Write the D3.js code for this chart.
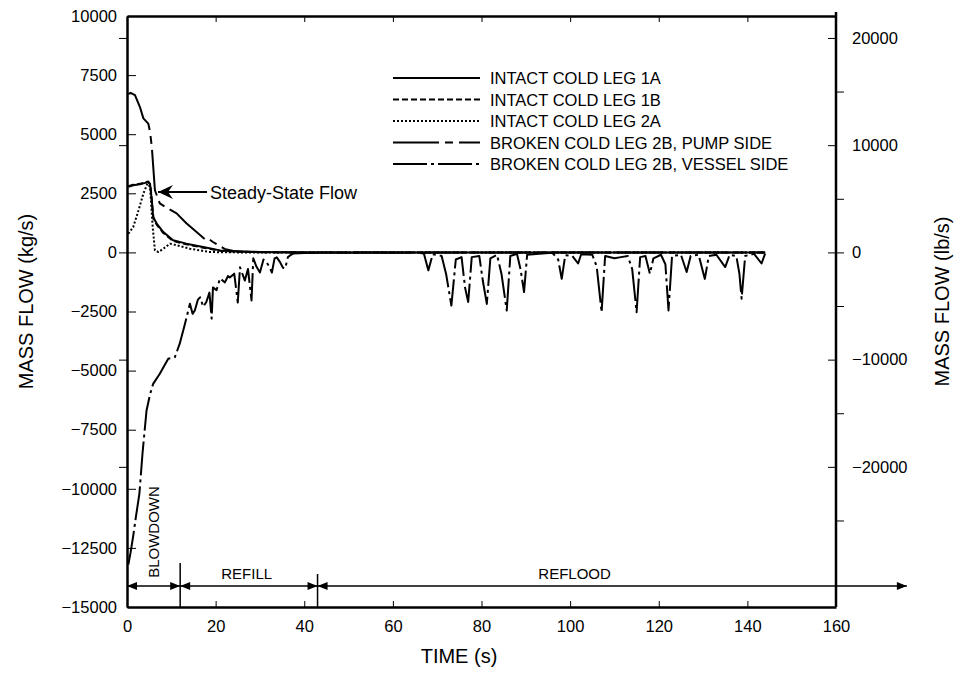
<!DOCTYPE html>
<html lang="en">
<head>
  <meta charset="UTF-8">
  <title>Cold Leg Mass Flow</title>
  <script src="https://d3js.org/d3.v7.min.js"></script>
  <style>
    body { margin: 0; background: #fff; }
    svg { display: block; font-family: "Liberation Sans", Arial, sans-serif; }
    .axis path, .axis line { stroke: #000; }
    .axis text { fill: #000; font-size: 16.5px; }
    .curve { fill: none; stroke: #000; stroke-width: 2; stroke-linejoin: round; }
    .legend text { font-size: 16.5px; }
  </style>
</head>
<body>
  <svg width="961" height="677"></svg>
  <script>
    // time (s), mass flow (kg/s)
    const leg1A = [[0.3, 2770], [1.4, 2840], [2.9, 2880], [4.1, 2940], [4.8, 2980], [5.2, 2900], [5.6, 2200],
      [5.9, 1500], [6.7, 1220], [8.2, 860], [10.4, 510], [13.4, 370], [17.2, 225], [21, 85], [25, 40],
      [30, 20], [40, 0], [144, 0]];
    const leg1B = [[0.3, 2800], [1.4, 2860], [2.9, 2900], [4.1, 2960], [4.8, 3000], [5.3, 2850], [5.7, 2000],
      [6.0, 1400], [6.8, 1150], [8.2, 820], [10.4, 480], [13.4, 340], [17.2, 200], [21, 70], [25, 30],
      [30, 10], [40, 0], [144, 0]];
    const leg2A = [[0.3, 790], [1.4, 1070], [2.6, 1780], [3.7, 2490], [4.6, 2910], [5.2, 2770], [5.8, 1070],
      [6.3, 85], [7.1, 15], [8.2, 155], [9.7, 370], [11.2, 300], [14.2, 155], [18.7, 15], [25, 0], [144, 0]];
    const pumpSide = [[0.3, 6700], [0.8, 6750], [1.8, 6650], [2.9, 6160], [3.7, 5670], [4.8, 5450], [5.2, 5100],
      [5.6, 4460], [6.3, 2630], [7.4, 2070], [9.3, 1850], [11.2, 1650], [13.4, 1230], [15.7, 860], [17.9, 510],
      [18.6, 550], [19.4, 440], [21.4, 225], [22, 150], [24, 60], [28, 20], [35, 0], [144, 0]];
    const vesselSide = [[0.3, -13200], [0.8, -12700], [1.4, -12000], [2, -11200], [2.8, -10200], [3.5, -8500],
      [4.4, -6700], [5.2, -6000], [5.9, -5560], [7.4, -5130], [9.3, -4500], [10.8, -4430], [11.9, -3860],
      [13.1, -3010], [14.2, -2170], [14.8, -2600], [15.3, -2460], [16.0, -2000], [16.5, -1900], [17.2, -2300],
      [17.9, -2100], [18.6, -1700], [19.1, -2800], [19.4, -1480], [20.2, -1600], [21, -1100], [22.1, -1270],
      [22.8, -1000], [23.2, -1060], [24.2, -900], [25, -2120], [25.5, -630], [26.6, -1190], [27.3, -700],
      [28.1, -2030], [28.5, -250], [29.2, -600], [30, -850], [30.8, -300], [31.5, -420], [32.1, -600],
      [32.7, -850], [33.3, -250], [33.8, -210], [34.5, -400], [35.2, -650], [35.7, -680], [36.3, -200],
      [36.8, -130], [37.5, -50], [40, -30], [45, 0], [50, -20], [55, 0], [60, -10], [65, 0], [67, -50],
      [68, -760], [69, -80], [71, -150], [72, -900], [73.2, -2250], [74.2, -300], [75.5, -200], [76.3, -1500],
      [77, -2100], [77.8, -200], [79.5, -150], [80.3, -1200], [81.2, -2180], [82, -250], [83.5, -100],
      [84.5, -900], [85.7, -2460], [86.5, -150], [88, -60], [88.8, -700], [89.6, -1680], [90.3, -100],
      [93, -60], [96, -20], [97.3, -300], [98.1, -1120], [98.9, -120], [100.5, -150], [101.8, -470],
      [102.5, -80], [105, -100], [106, -600], [107.1, -2530], [107.9, -150], [110, -250], [111.5, -200],
      [113, -150], [114, -700], [115, -2530], [115.8, -200], [117, -150], [118, -900], [118.8, -250],
      [120.5, -100], [121.5, -500], [122.2, -2460], [123, -150], [125, -100], [126.3, -830], [127.2, -150],
      [129, -100], [130.4, -1120], [131.3, -150], [133, -100], [135, -620], [136, -100], [137.5, -150],
      [138.2, -900], [138.7, -1960], [139.5, -150], [141.5, -60], [143.2, -470], [144, -50]];

    const seriesNames = ["INTACT COLD LEG 1A", "INTACT COLD LEG 1B", "INTACT COLD LEG 2A",
      "BROKEN COLD LEG 2B, PUMP SIDE", "BROKEN COLD LEG 2B, VESSEL SIDE"];
    const seriesData = [leg1A, leg1B, leg2A, pumpSide, vesselSide];
    const seriesDash = [null, "6,3", "2,2", "46,6,8,6", "34,4,3,4"];

    const timeTicks = [0, 20, 40, 60, 80, 100, 120, 140, 160];
    const kgTicks = [10000, 7500, 5000, 2500, 0, -2500, -5000, -7500, -10000, -12500, -15000];
    const lbTicks = [20000, 10000, 0, -10000, -20000];
    const lbMinorTicks = [15000, 5000, -5000, -15000, -25000];
    const phases = [
      { name: "BLOWDOWN", start: 0, end: 12 },
      { name: "REFILL", start: 12, end: 43 },
      { name: "REFLOOD", start: 43, end: 176 }
    ];
    const KG_TO_LB = 2.20462;

    const svg = d3.select("svg");
    const plot = { left: 127, right: 836, top: 16, bottom: 607 };

    const x = d3.scaleLinear().domain([0, 160]).range([plot.left, plot.right]);
    const y = d3.scaleLinear().domain([-15000, 10000]).range([plot.bottom, plot.top]);
    const yLb = d3.scaleLinear().domain(y.domain().map(d => d * KG_TO_LB)).range(y.range());

    const fmt = d => d < 0 ? "\u2212" + Math.abs(d) : String(d);

    // bottom axis
    svg.append("g").attr("class", "axis")
      .attr("transform", `translate(0,${plot.bottom})`)
      .call(d3.axisTop(x).tickValues(timeTicks).tickSize(6).tickSizeOuter(0).tickFormat(""))
      .call(g => g.select(".domain").attr("stroke-width", 2.5));
    svg.append("g").attr("class", "axis")
      .attr("transform", `translate(0,${plot.bottom})`)
      .call(d3.axisBottom(x).tickValues(timeTicks).tickSize(0).tickPadding(13).tickFormat(d => d))
      .call(g => g.select(".domain").remove());

    // top axis
    svg.append("g").attr("class", "axis")
      .attr("transform", `translate(0,${plot.top})`)
      .call(d3.axisBottom(x).tickValues(timeTicks).tickSize(6).tickSizeOuter(0).tickFormat(""))
      .call(g => g.select(".domain").attr("stroke-width", 2.5));

    // left axis: kg/s ticks inward, lb/s ticks outward
    svg.append("g").attr("class", "axis")
      .attr("transform", `translate(${plot.left},0)`)
      .call(d3.axisRight(y).tickValues(kgTicks).tickSize(9).tickSizeOuter(0).tickFormat(""))
      .call(g => g.select(".domain").attr("stroke-width", 2.5));
    svg.append("g").attr("class", "axis")
      .attr("transform", `translate(${plot.left},0)`)
      .call(d3.axisLeft(yLb).tickValues(lbTicks).tickSize(8).tickFormat(""))
      .call(g => g.select(".domain").remove());
    svg.append("g").attr("class", "axis")
      .attr("transform", `translate(${plot.left - 8},0)`)
      .call(d3.axisLeft(y).tickValues(kgTicks).tickSize(0).tickPadding(2).tickFormat(fmt))
      .call(g => g.select(".domain").remove());

    // right axis: lb/s ticks inward with labels, minor ticks outward
    svg.append("g").attr("class", "axis")
      .attr("transform", `translate(${plot.right},0)`)
      .call(d3.axisLeft(yLb).tickValues(lbTicks).tickSize(8).tickSizeOuter(0).tickFormat(""))
      .call(g => g.select(".domain").attr("stroke-width", 2.5).attr("d", `M0,${plot.top - 4}V${plot.bottom}`));
    svg.append("g").attr("class", "axis")
      .attr("transform", `translate(${plot.right},0)`)
      .call(d3.axisRight(yLb).tickValues(lbMinorTicks.concat([0])).tickSize(8).tickFormat(""))
      .call(g => g.select(".domain").remove());
    svg.append("g").attr("class", "axis")
      .attr("transform", `translate(${plot.right + 14},0)`)
      .call(d3.axisRight(yLb).tickValues(lbTicks).tickSize(0).tickPadding(2).tickFormat(fmt))
      .call(g => g.select(".domain").remove());

    // axis titles
    svg.append("text")
      .attr("transform", `translate(33,${(plot.top + plot.bottom) / 2 - 10}) rotate(-90)`)
      .attr("text-anchor", "middle").attr("font-size", 20)
      .text("MASS FLOW (kg/s)");
    svg.append("text")
      .attr("transform", `translate(949,${(plot.top + plot.bottom) / 2 - 10}) rotate(-90)`)
      .attr("text-anchor", "middle").attr("font-size", 20)
      .text("MASS FLOW (lb/s)");
    svg.append("text")
      .attr("x", 459).attr("y", 663)
      .attr("text-anchor", "middle").attr("font-size", 20)
      .text("TIME (s)");

    // curves
    const line = d3.line().x(d => x(d[0])).y(d => y(d[1]));
    svg.selectAll("path.curve")
      .data(seriesData)
      .enter().append("path")
      .attr("class", "curve")
      .attr("stroke-dasharray", (d, i) => seriesDash[i])
      .attr("d", line);

    // legend
    const legend = svg.append("g").attr("class", "legend").attr("transform", "translate(393,78)");
    const rows = legend.selectAll("g").data(seriesNames).enter().append("g")
      .attr("transform", (d, i) => `translate(0,${i * 21.5})`);
    rows.append("line")
      .attr("x1", 0).attr("x2", 87).attr("y1", 0).attr("y2", 0)
      .attr("stroke", "#000").attr("stroke-width", 1.8)
      .attr("stroke-dasharray", (d, i) => seriesDash[i]);
    rows.append("text")
      .attr("x", 97).attr("y", 6)
      .text(d => d);

    // steady-state annotation
    const ssY = y(2550);
    const tipX = x(7);
    svg.append("line")
      .attr("x1", tipX).attr("x2", 207).attr("y1", ssY).attr("y2", ssY)
      .attr("stroke", "#000").attr("stroke-width", 2);
    svg.append("path")
      .attr("d", `M${tipX},${ssY}L${tipX + 15},${ssY - 7}L${tipX + 10},${ssY}L${tipX + 15},${ssY + 7}Z`)
      .attr("fill", "#000");
    svg.append("text")
      .attr("x", 210).attr("y", ssY + 6.5)
      .attr("font-size", 18)
      .text("Steady-State Flow");

    // phase arrows
    const defs = svg.append("defs");
    defs.append("marker").attr("id", "head").attr("viewBox", "0 0 10 10")
      .attr("refX", 10).attr("refY", 5).attr("markerWidth", 12).attr("markerHeight", 10)
      .attr("markerUnits", "userSpaceOnUse").attr("orient", "auto-start-reverse")
      .append("path").attr("d", "M0,1L10,5L0,9Z").attr("fill", "#000");

    const arrowY = 586;
    const ph = svg.append("g");
    ph.selectAll("line.span").data(phases).enter().append("line")
      .attr("class", "span")
      .attr("x1", d => x(d.start)).attr("x2", d => x(d.end))
      .attr("y1", arrowY).attr("y2", arrowY)
      .attr("stroke", "#000").attr("stroke-width", 1.5)
      .attr("marker-start", "url(#head)")
      .attr("marker-end", "url(#head)");
    ph.selectAll("line.sep").data(phases.slice(1)).enter().append("line")
      .attr("class", "sep")
      .attr("x1", d => x(d.start)).attr("x2", d => x(d.start))
      .attr("y1", (d, i) => i === 0 ? 563 : 574).attr("y2", plot.bottom)
      .attr("stroke", "#000").attr("stroke-width", 1.5);
    ph.selectAll("text").data(phases).enter().append("text")
      .attr("font-size", 15)
      .attr("text-anchor", "middle")
      .attr("transform", d => d.name === "BLOWDOWN"
        ? `translate(${x(6) + 5},532) rotate(-90)`
        : `translate(${d.name === "REFILL" ? x(27) : x(101)},579)`)
      .text(d => d.name);
  </script>
</body>
</html>
